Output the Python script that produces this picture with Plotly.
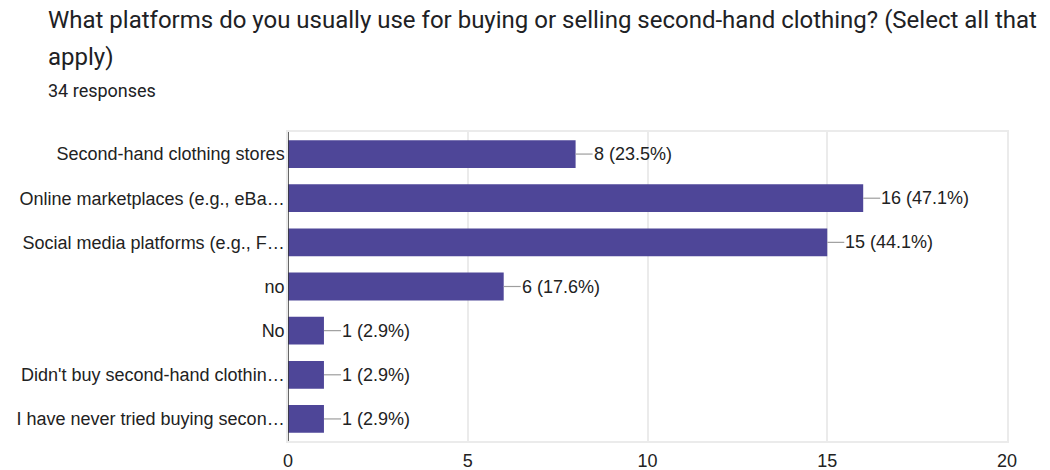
import plotly.graph_objects as go

categories = [
    "Second-hand clothing stores",
    "Online marketplaces (e.g., eBa…",
    "Social media platforms (e.g., F…",
    "no",
    "No",
    "Didn't buy second-hand clothin…",
    "I have never tried buying secon…",
]
counts = [8, 16, 15, 6, 1, 1, 1]
percents = ["23.5%", "47.1%", "44.1%", "17.6%", "2.9%", "2.9%", "2.9%"]
x_ticks = [0, 5, 10, 15, 20]

title_line1 = "What platforms do you usually use for buying or selling second-hand clothing? (Select all that"
title_line2 = "apply)"
subtitle = "34 responses"

W, H = 1050, 470
L, R, T, B = 288, 1007, 132, 441
BAR = "#4e4698"
TXT = "#222222"
HEAD_FONT = "Roboto"
FONT = "Liberation Sans"


def px_x(p):
    return (p - L) / (R - L)


def px_y(p):
    return (B - p) / (B - T)


fig = go.Figure()
fig.add_trace(go.Bar(
    x=counts,
    y=categories,
    orientation="h",
    marker=dict(color=BAR, line=dict(width=0)),
    hoverinfo="skip",
))

shapes = []
annotations = []
for c, v, p in zip(categories, counts, percents):
    shapes.append(dict(
        type="line", xref="x", yref="y", xsizemode="pixel", xanchor=v,
        x0=0, x1=17, y0=c, y1=c, line=dict(color="#9e9e9e", width=1.2),
    ))
    annotations.append(dict(
        x=v, y=c, xref="x", yref="y", text=f"{v} ({p})", showarrow=False,
        xanchor="left", yanchor="middle", xshift=16,
        font=dict(family=FONT, size=18, color=TXT),
    ))

# left axis line (black)
shapes.append(dict(type="line", xref="x", yref="paper", x0=0, x1=0, y0=0, y1=1,
                   line=dict(color="#333333", width=1.5), layer="above"))

annotations += [
    dict(x=px_x(46), y=px_y(20), xref="paper", yref="paper", text=title_line1,
         showarrow=False, xanchor="left", yanchor="middle",
         font=dict(family=HEAD_FONT, size=24, color="#202124")),
    dict(x=px_x(46), y=px_y(57), xref="paper", yref="paper", text=title_line2,
         showarrow=False, xanchor="left", yanchor="middle",
         font=dict(family=HEAD_FONT, size=24, color="#202124")),
    dict(x=px_x(46), y=px_y(90), xref="paper", yref="paper", text=subtitle,
         showarrow=False, xanchor="left", yanchor="middle",
         font=dict(family=HEAD_FONT, size=18, color="#202124")),
]

fig.update_layout(
    width=W, height=H,
    margin=dict(l=L, r=W - R, t=T, b=H - B, pad=0, autoexpand=False),
    paper_bgcolor="white", plot_bgcolor="white",
    showlegend=False,
    bargap=0.37,
    shapes=shapes,
    annotations=annotations,
    font=dict(family=FONT, size=18, color=TXT),
)
fig.update_xaxes(
    range=[0, 20], tickvals=x_ticks, ticktext=[str(t) for t in x_ticks],
    showgrid=True, gridcolor="#ebebeb", gridwidth=1.5, zeroline=False,
    showline=True, linecolor="#ebebeb", linewidth=1.5, mirror=True,
    ticks="", ticklabelstandoff=3, automargin=False,
    tickfont=dict(family=FONT, size=18, color=TXT),
    fixedrange=True,
)
fig.update_yaxes(
    categoryorder="array", categoryarray=categories, autorange="reversed",
    showgrid=False, zeroline=False,
    showline=True, linecolor="#ebebeb", linewidth=1.5, mirror=True,
    ticks="", ticklabelstandoff=-2, automargin=False,
    tickfont=dict(family=FONT, size=18, color=TXT),
    fixedrange=True,
)

fig.write_html("out.html", config={"displayModeBar": False})
